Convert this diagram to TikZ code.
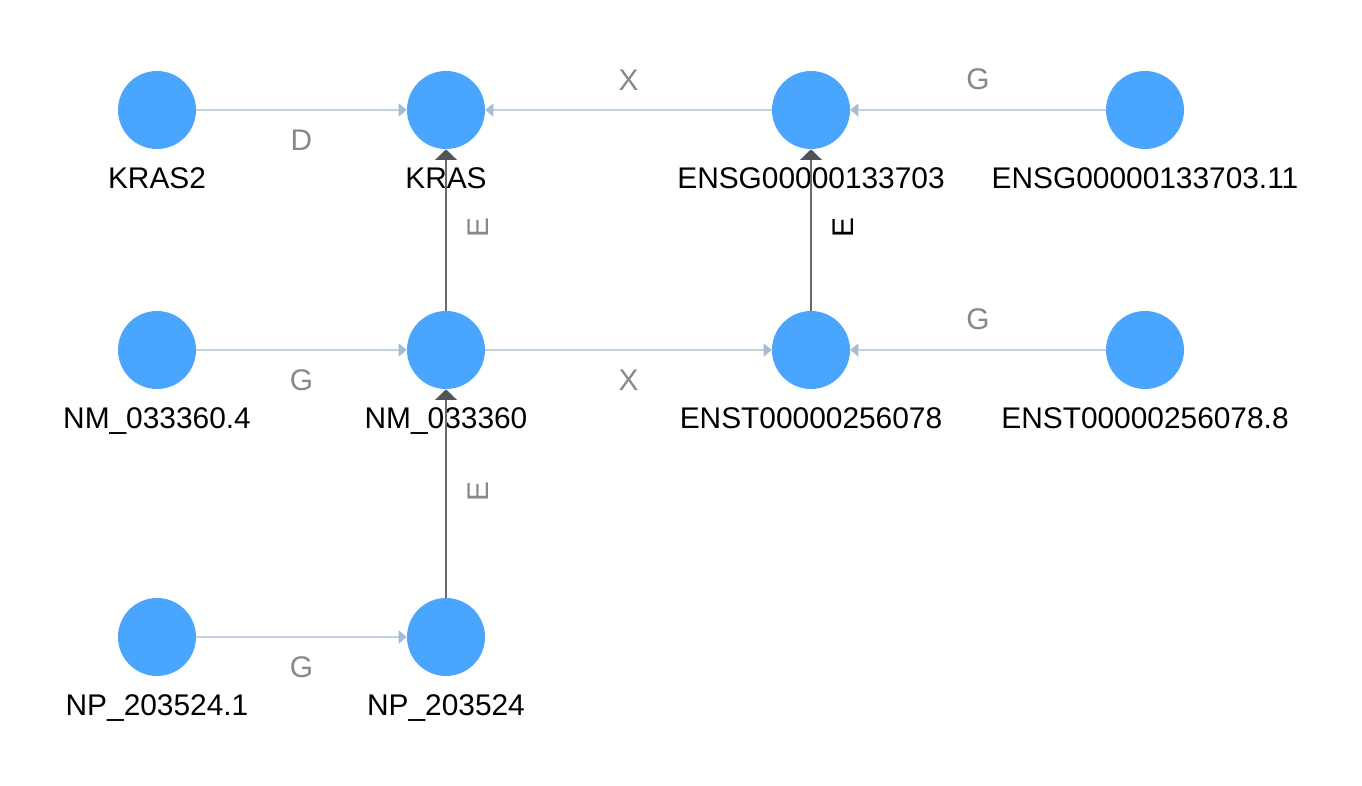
\documentclass[tikz,border=0pt]{standalone}
\usepackage{fontspec}
\setmainfont{Liberation Sans}
\usetikzlibrary{arrows.meta}
\definecolor{genefill}{RGB}{74,165,255}
\definecolor{edgelight}{RGB}{196,210,224}
\definecolor{tiplight}{RGB}{166,188,210}
\definecolor{edgedark}{RGB}{104,106,110}
\definecolor{tipdark}{RGB}{80,83,88}
\definecolor{labelgray}{RGB}{136,136,136}
\newcommand\genefont{\fontsize{22.4}{26}\selectfont}

\begin{document}
\begin{tikzpicture}[x=0.75pt,y=-0.75pt]
  \tikzset{gene/.style={circle, fill=genefill, minimum size=58.5pt, inner sep=0pt}};
  \tikzset{glabel/.style={anchor=base, inner sep=0pt, font=\genefont, label distance=29.7pt}};
  \tikzset{lightedge/.style={draw=edgelight, line width=1.1pt, -{Triangle[length=6pt, width=9.75pt, color=tiplight]}}};
  \tikzset{darkedge/.style={draw=edgedark, line width=2pt, -{Triangle[length=8pt, width=16pt, color=tipdark]}}};
  \tikzset{elabel/.style={inner sep=0pt, font=\genefont, text=labelgray}};
  \useasboundingbox (0,0) rectangle (1362,785);

  \node[gene, label={[glabel]below:KRAS2}] (kras2) at (157,110) {};
  \node[gene, label={[glabel]below:KRAS}] (kras) at (446,110) {};
  \node[gene, label={[glabel]below:ENSG00000133703}] (ensg) at (811,110) {};
  \node[gene, label={[glabel]below:ENSG00000133703.11}] (ensgv) at (1145,110) {};

  \node[gene, label={[glabel]below:NM\_033360.4}] (nmv) at (157,350) {};
  \node[gene, label={[glabel]below:NM\_033360}] (nm) at (446,350) {};
  \node[gene, label={[glabel]below:ENST00000256078}] (enst) at (811,350) {};
  \node[gene, label={[glabel]below:ENST00000256078.8}] (enstv) at (1145,350) {};

  \node[gene, label={[glabel]below:NP\_203524.1}] (npv) at (157,637) {};
  \node[gene, label={[glabel]below:NP\_203524}] (np) at (446,637) {};

  \draw [lightedge] (kras2) -- (kras) node [elabel, midway, below=14.4pt] {D};
  \draw [lightedge] (ensg) -- (kras) node [elabel, midway, above=14.4pt] {X};
  \draw [lightedge] (ensgv) -- (ensg) node [elabel, midway, above=14.4pt] {G};

  \draw [lightedge] (nmv) -- (nm) node [elabel, midway, below=14.4pt] {G};
  \draw [lightedge] (nm) -- (enst) node [elabel, midway, below=14.4pt] {X};
  \draw [lightedge] (enstv) -- (enst) node [elabel, midway, above=14.4pt] {G};

  \draw [lightedge] (npv) -- (np) node [elabel, midway, below=14.4pt] {G};

  \draw [darkedge] (nm) -- (kras) node [elabel, midway, xshift=24pt, yshift=1.5pt, rotate=90] {E};
  \draw [darkedge] (enst) -- (ensg) node [elabel, midway, xshift=24pt, yshift=1.5pt, rotate=90, text=black] {E};
  \draw [darkedge] (np) -- (nm) node [elabel, midway, xshift=24pt, yshift=1.5pt, rotate=90] {E};

\end{tikzpicture}
\end{document}
